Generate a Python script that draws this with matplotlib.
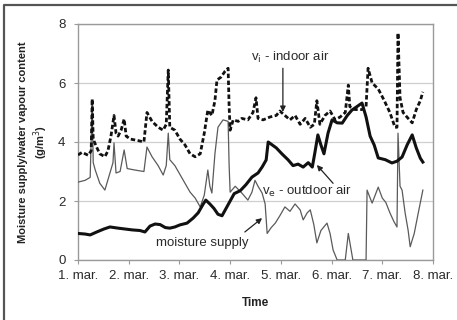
import matplotlib
matplotlib.use("Agg")
import matplotlib.pyplot as plt
from matplotlib.lines import Line2D

plt.rcParams['font.family'] = ['Liberation Sans', 'DejaVu Sans']

# Time axis: days after 1 March
day_labels = ["1. mar.", "2. mar.", "3. mar.", "4. mar.", "5. mar.", "6. mar.", "7. mar.", "8. mar."]

# v_i - indoor air (g/m3)
vi_t = [0, 0.08, 0.2, 0.26, 0.28, 0.30, 0.36, 0.43, 0.53, 0.59, 0.65, 0.71, 0.75, 0.79, 0.85, 0.91,
        0.95, 1.03, 1.18, 1.30, 1.36, 1.46, 1.58, 1.68, 1.74, 1.78, 1.81, 1.91, 2.01, 2.11, 2.21, 2.31,
        2.41, 2.49, 2.56, 2.64, 2.70, 2.74, 2.82, 2.90, 2.96, 2.98, 3.0, 3.06, 3.16, 3.23, 3.35, 3.45,
        3.51, 3.55, 3.65, 3.79, 3.91, 3.98, 4.08, 4.18, 4.28, 4.38, 4.48, 4.58, 4.66, 4.71, 4.77, 4.87,
        4.97, 5.07, 5.17, 5.27, 5.33, 5.36, 5.46, 5.60, 5.68, 5.72, 5.80, 5.92, 6.04, 6.15, 6.25, 6.29,
        6.31, 6.35, 6.41, 6.51, 6.59, 6.67, 6.75, 6.80]
vi_v = [3.56, 3.65, 3.55, 3.7, 5.46, 4.1, 3.85, 3.6, 3.5, 3.7, 4.2, 4.9, 4.3, 4.2, 4.4, 4.78,
        4.2, 4.1, 4.05, 4.0, 5.0, 4.7, 4.5, 4.4, 4.6, 6.44, 4.5, 4.4, 4.1, 3.9, 3.6, 3.5,
        3.6, 4.3, 5.08, 4.9, 5.4, 6.1, 6.2, 6.4, 6.5, 5.2, 4.4, 4.75, 4.7, 4.8, 4.75, 5.0,
        5.5, 4.8, 4.75, 4.85, 4.9, 5.05, 4.9, 4.75, 4.9, 4.6, 4.8, 4.5, 4.6, 5.4, 4.6, 4.9,
        5.05, 4.75, 4.85, 5.0, 5.93, 5.2, 5.1, 5.1, 5.2, 6.5, 6.0, 5.8, 5.4, 5.0, 4.5, 4.5,
        7.7, 5.5, 5.0, 4.8, 4.65, 5.1, 5.4, 5.7]

# v_e - outdoor air (g/m3)
ve_t = [0, 0.14, 0.24, 0.37, 0.51, 0.63, 0.79, 0.93, 1.07, 1.22, 1.32, 1.42, 1.52, 1.62, 1.72, 1.81,
        1.91, 2.01, 2.15, 2.27, 2.37, 2.47, 2.52, 2.60, 2.68, 2.76, 2.84, 2.92, 3.0, 3.08, 3.20, 3.31,
        3.43, 3.55, 3.63, 3.71, 3.75, 3.83, 3.91, 4.02, 4.14, 4.24, 4.34, 4.44, 4.54, 4.62, 4.67, 4.73,
        4.79, 4.85, 4.93, 5.01, 5.11, 5.21, 5.31, 5.40, 5.50, 5.60, 5.68, 5.76, 5.84, 5.92, 6.06, 6.19,
        6.29, 6.39, 6.49, 6.59, 6.67, 6.75, 6.80]
ve_v = [0.9, 0.88, 0.85, 0.95, 1.05, 1.12, 1.08, 1.05, 1.02, 1.0, 0.95, 1.15, 1.22, 1.2, 1.1, 1.08,
        1.12, 1.19, 1.25, 1.42, 1.6, 1.9, 2.03, 1.9, 1.75, 1.55, 1.5, 1.75, 2.0, 2.25, 2.35, 2.55,
        2.81, 2.95, 3.15, 3.39, 4.0, 3.9, 3.8, 3.6, 3.4, 3.2, 3.25, 3.15, 3.3, 3.15, 3.63, 4.24,
        3.9, 3.6, 4.3, 4.75, 4.65, 4.64, 4.9, 5.08, 5.2, 5.32, 4.85, 4.2, 3.9, 3.46, 3.4, 3.29,
        3.35, 3.49, 3.9, 4.24, 3.8, 3.45, 3.32]

# Moisture supply (g/m3)
ms_t = [0, 0.14, 0.24, 0.28, 0.30, 0.34, 0.43, 0.53, 0.63, 0.69, 0.71, 0.75, 0.83, 0.91, 0.97, 1.12,
        1.30, 1.36, 1.46, 1.58, 1.68, 1.74, 1.78, 1.81, 1.91, 2.01, 2.11, 2.21, 2.31, 2.41, 2.49, 2.56,
        2.60, 2.64, 2.70, 2.76, 2.86, 2.96, 2.98, 3.0, 3.10, 3.23, 3.35, 3.43, 3.49, 3.55, 3.63, 3.69,
        3.73, 3.81, 3.89, 3.98, 4.08, 4.18, 4.28, 4.38, 4.44, 4.52, 4.58, 4.65, 4.71, 4.79, 4.91, 4.97,
        5.03, 5.11, 5.27, 5.33, 5.38, 5.42, 5.68, 5.70, 5.76, 5.80, 5.86, 5.92, 6.0, 6.07, 6.15, 6.23,
        6.29, 6.31, 6.35, 6.39, 6.45, 6.51, 6.55, 6.63, 6.71, 6.80]
ms_v = [2.64, 2.7, 2.8, 5.4, 3.3, 3.05, 2.6, 2.37, 2.95, 3.3, 3.97, 2.95, 3.0, 3.73, 3.1, 3.05,
        3.0, 3.83, 3.5, 3.2, 2.88, 3.2, 4.3, 3.4, 3.2, 2.9, 2.6, 2.3, 2.1, 1.8, 2.2, 3.05,
        2.5, 2.27, 3.6, 4.5, 4.75, 4.7, 3.2, 2.3, 2.5, 2.27, 2.03, 2.3, 2.7, 2.5, 2.27, 1.9,
        0.9, 1.1, 1.25, 1.5, 1.8, 1.65, 1.9, 1.7, 1.36, 1.6, 1.7, 1.2, 0.58, 1.0, 1.25, 0.9,
        0.34, 0.0, 0.0, 0.9, 0.4, 0.0, 0.0, 2.37, 2.1, 1.93, 2.2, 2.47, 2.1, 1.95, 1.6, 1.3,
        1.12, 4.3, 2.5, 2.37, 1.6, 1.0, 0.45, 0.9, 1.6, 2.37]

y_ticks = [0, 2, 4, 6, 8]

W, H = 457, 320
fig = plt.figure(figsize=(W / 100, H / 100), dpi=100)
fig.patch.set_facecolor('white')

# frame around the figure (top and left edges visible)
fig.add_artist(Line2D([4 / W, 4 / W, 1.0], [0.0, 1 - 5 / H, 1 - 5 / H],
                      transform=fig.transFigure, color='#555555', lw=1.6))

ax = fig.add_axes([78 / W, 1 - 260 / H, 355 / W, 236 / H])
ax.set_xlim(0, 7)
ax.set_ylim(0, 8)

ax.yaxis.grid(True, color='#cfcfcf', lw=0.9)
ax.set_axisbelow(True)

ax.plot(ms_t, ms_v, color='#5a5a5a', lw=0.9, zorder=3)
ax.plot(ve_t, ve_v, color='#111111', lw=2.2, zorder=4, solid_joinstyle='round')
ax.plot(vi_t, vi_v, color='#111111', lw=2.0, zorder=5,
        linestyle=(0, (1.6, 0.9)), dash_capstyle='butt')

for s in ax.spines.values():
    s.set_color('#9a9a9a')
    s.set_linewidth(1.0)

ax.set_xticks(range(len(day_labels)))
ax.set_xticklabels(day_labels)
ax.set_yticks(y_ticks)
ax.set_yticklabels([str(v) for v in y_ticks])
ax.tick_params(axis='both', colors='#9a9a9a', labelcolor='#2a2a2a', labelsize=9.5,
               length=3, width=0.8, direction='out')
ax.tick_params(axis='y', pad=6)
ax.tick_params(axis='x', pad=4)

ax.set_xlabel('Time', fontsize=8.5, fontweight='bold', color='#222222')
ax.xaxis.set_label_coords(0.5, -37 / 236)
ax.set_ylabel('Moisture supply/water vapour content\n(g/m$^3$)', fontsize=8,
              fontweight='bold', color='#222222', linespacing=1.25)
ax.yaxis.set_label_coords(-28 / 355, 0.5)

arrow_kw = dict(arrowstyle='-|>', color='#222222', lw=0.9, mutation_scale=8,
                shrinkA=0, shrinkB=0)
ax.annotate('', xy=(4.04, 5.02), xytext=(4.04, 6.5), arrowprops=arrow_kw, zorder=6)
ax.text(4.18, 6.85, r'v$_\mathrm{i}$ - indoor air', ha='center', va='center',
        fontsize=9.5, color='#2a2a2a', zorder=6)

ax.annotate('', xy=(4.71, 3.22), xytext=(5.03, 2.6), arrowprops=arrow_kw, zorder=6)
ax.text(4.52, 2.33, r'v$_\mathrm{e}$ - outdoor air', ha='center', va='center',
        fontsize=9.5, color='#2a2a2a', zorder=6)

ax.annotate('', xy=(3.63, 1.42), xytext=(3.29, 0.95), arrowprops=arrow_kw, zorder=6)
ax.text(2.45, 0.58, 'moisture supply', ha='center', va='center',
        fontsize=9.5, color='#2a2a2a', zorder=6)

fig.savefig('out.png', dpi=100, facecolor='white')
